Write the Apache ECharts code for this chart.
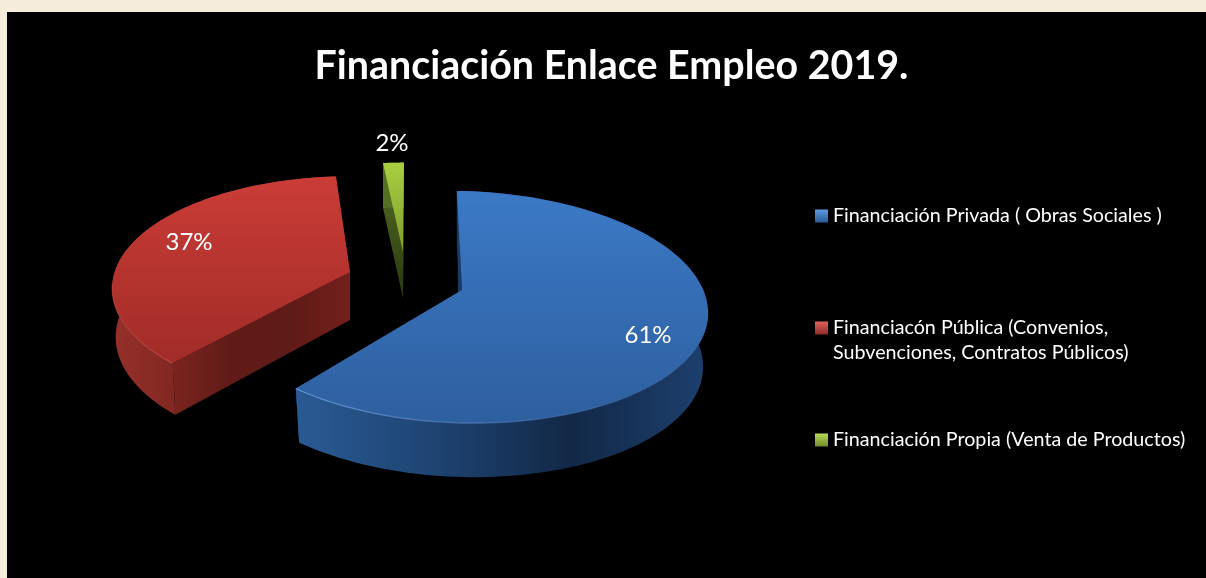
<!DOCTYPE html>
<html><head><meta charset="utf-8">
<style>
html,body{margin:0;padding:0;background:#f6ecdb;width:1206px;height:578px;overflow:hidden}
#panel{position:absolute;left:7px;top:12px;width:1199px;height:566px;background:#000}
#chart{position:absolute;left:0;top:0;width:1206px;height:578px}
</style>
<script src="https://cdn.jsdelivr.net/npm/echarts@6/dist/echarts.min.js"></script>
</head><body><div id="panel"></div><div id="chart"></div>
<script>
const titleText = 'Financiación Enlace Empleo 2019.';
const categories = ['Financiación Privada ( Obras Sociales )', 'Financiacón Pública (Convenios,\nSubvenciones, Contratos Públicos)', 'Financiación Propia (Venta de Productos)'];
const values = [61, 37, 2];

// 3D view of the pie: shared ellipse and one view setting per slice
const RX = 246, RY = 116, DY = 17;
const apexes = [[462, 290], [350, 272], [403, 253]];
const scales = [1, 0.967, 0.913];
const skews = [0.024, 0, 0];
const warps = [[-1.2, 2.9], [8.6, 3.8], [2.1, 0.25]];
const depths = [54, 48, 45];
const floorX = [0.98, 0.985, 1];
const floorY = [1, 1.04, 1];
const labelOffsets = [[186, 45], [-161, -30], [-11, -110]];
const topColors = [['#3b79c6', '#2e5f9f'], ['#cb3c37', '#a12c28'], ['#a8cf40', '#7f9c2d']];
const wallColors = [['#2a5a94', '#1e4472', '#122847', '#1d406e'], ['#96302a', '#7e2520', '#7e2520', '#7e2520'], ['#566e22', '#566e22', '#566e22', '#566e22']];
const faceColors = [['#1c3c66', '#1c3c66'], ['#7b241f', '#601b18'], ['#556f22', '#2b3811']];
const rimColors = [['rgba(120,170,230,0.75)', 'rgba(90,140,205,0.15)'], ['rgba(225,90,85,0.6)', 'rgba(225,90,85,0.35)'], ['rgba(0,0,0,0)', 'rgba(0,0,0,0)']];
const legendColors = [['#5b9be0', '#2a5a96'], ['#e2625c', '#8f2a26'], ['#b9dc58', '#6f8a28']];

const total = values.reduce((a, b) => a + b, 0);
const starts = values.map((_, i) => values.slice(0, i).reduce((a, b) => a + b, 0) / total * 360);
const lin = (x0, y0, x1, y1, cols) => new echarts.graphic.LinearGradient(x0, y0, x1, y1,
  cols.map((c, i) => ({offset: i / (cols.length - 1), color: c})));

function renderSlice(params, api) {
  const i = params.seriesIndex, val = api.value(0);
  const span = val / total * 360, A = apexes[i], s = scales[i];
  const top = t => {
    const deg = starts[i] + span * t + warps[i][0] + (warps[i][1] - warps[i][0]) * t;
    const r = deg * Math.PI / 180, sn = Math.sin(r), cs = Math.cos(r);
    return [A[0] + s * RX * sn, A[1] + s * (DY - RY * cs) + skews[i] * s * RX * sn, cs];
  };
  const bot = p => [A[0] + floorX[i] * (p[0] - A[0]), A[1] + floorY[i] * (p[1] - A[1]) + depths[i]];
  const rim = [];
  for (let k = 0; k <= 120; k++) rim.push(top(k / 120));
  const rimXY = rim.map(p => [p[0], p[1]]);
  const botRim = rimXY.map(bot);
  const startP = rimXY[0], endP = rimXY[rimXY.length - 1], apexBot = bot(A);
  const poly = (pts, fill) => ({type: 'polygon', shape: {points: pts}, style: {fill: fill}, silent: true});
  const children = [
    poly([endP, A, apexBot, bot(endP)], lin(0, 0, 1, 0, faceColors[i])),
    poly([startP, A, apexBot, bot(startP)], i === 1 ? lin(0, 0, 1, 0, ['#7b241f', '#601b18', '#5f1b18', '#741f1b']) : lin(0, 0, 0, 1, faceColors[i])),
    poly(rimXY.concat(botRim.slice().reverse()), lin(0, 0, 1, 0, wallColors[i])),
  ];
  if (i === 0) children.push(poly([startP, A, [A[0] - 4, A[1] + 3]], '#1a3a63'));
  children.push(poly([A].concat(rimXY), lin(0, 0, 0, 1, topColors[i])));
  const near = rim.filter(p => p[2] < 0.05).map(p => [p[0], p[1]]);
  if (near.length) children.push({type: 'polyline', shape: {points: near}, style: {fill: null, stroke: lin(i === 0 ? 1 : 0, 0, i === 0 ? 0 : 1, 0, rimColors[i].slice().reverse()), lineWidth: 1.2}, silent: true});
  children.push({type: 'text', silent: true, style: {
    text: Math.round(val / total * 100) + '%', x: A[0] + labelOffsets[i][0], y: A[1] + labelOffsets[i][1],
    fill: '#fff', font: '24px Lato', align: 'center', verticalAlign: 'middle'}});
  return {type: 'group', children};
}

const chart = echarts.init(document.getElementById('chart'), null, {renderer: 'canvas'});
chart.setOption({
  animation: false,
  backgroundColor: 'transparent',
  title: {text: titleText, left: 606.5, top: 42, textAlign: 'center', textStyle: {color: '#fff', fontFamily: 'Lato', fontWeight: 'bold', fontSize: 39.4}},
  legend: {
    orient: 'vertical', left: 815, top: 203.5, padding: 0, itemWidth: 13, itemHeight: 13, itemGap: 62, icon: 'rect',
    selectedMode: false, align: 'left',
    // a blank first line keeps the swatch level with the first line of a two-line entry
    formatter: n => n.indexOf('\n') >= 0 ? ' \n' + n : n,
    data: categories.map((n, i) => ({name: n, itemStyle: {color: lin(0, 0, 0, 1, legendColors[i])}})),
    textStyle: {color: '#fff', fontFamily: 'Lato', fontSize: 19.7, lineHeight: 25}
  },
  series: categories.map((n, i) => ({
    type: 'custom', name: n, coordinateSystem: 'none', renderItem: renderSlice,
    itemStyle: {color: topColors[i][0]}, data: [[values[i]]], silent: true
  }))
});
</script></body></html>
